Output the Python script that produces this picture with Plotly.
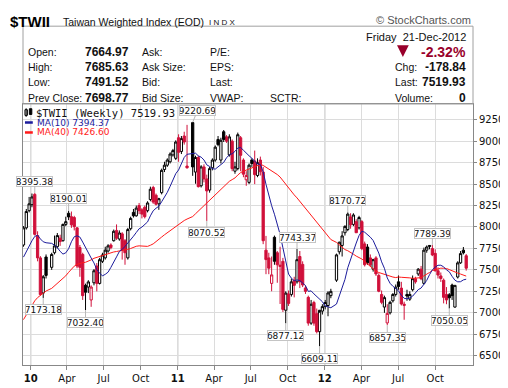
import plotly.graph_objects as go
import pandas as pd

# ---------------- data ----------------
holiday_weeks = ["2010-02-15", "2011-01-31", "2012-01-23"]
week_starts = [d for d in pd.date_range("2009-12-14", "2012-12-17", freq="W-MON")
               if d.strftime("%Y-%m-%d") not in holiday_weeks]

# weekly closes before the visible window (needed for the moving averages)
prior_closes_2009 = [5900, 5950, 6000, 6100, 6150, 6200, 6300,
                     6500, 6450, 6600, 6850,
                     6900, 6850, 6550, 6500, 6550,
                     6600, 6700, 6950, 7000,
                     7050, 6950, 6600, 6750, 6900,
                     7100, 7300, 7400, 7300,
                     7400, 7500, 7650, 7750,
                     7400, 7500, 7650, 7750, 7550,
                     7750]

opens = [7790, 7990, 8190,
         8260, 8380, 7900, 7640, 7230, 7650, 7530, 7700, 7770, 7870, 7840, 8030, 8160, 8120, 8110, 7990,
         7760, 7680, 7320, 7300, 7150, 7350, 7545, 7343, 7600, 7640, 7720, 7790, 7840, 7960, 7860, 7920,
         7840, 7640, 7980, 8170, 8130, 8250, 8200, 8230, 8190, 8320, 8460, 8370, 8270, 8400, 8670, 8720,
         8760, 8840, 8800,
         9040, 8880, 9060, 8710, 9216, 8640, 8810, 8480, 8700, 8560, 8430, 8690, 8780, 9020, 8780, 9110,
         9050, 8840, 9000, 8650, 8680, 9040, 8780, 8550, 8520, 8780, 8770, 8600, 8780, 8640, 7730, 7640,
         7343, 7880, 7700, 7540, 7600, 7030, 7220, 7214, 7380, 7361, 7656, 7564, 7290, 7180, 6880, 7120,
         6990, 6780, 7020,
         7072, 7085, 7200, 7380, 7711, 7785, 7933, 7970, 8117, 8030, 8062, 7990, 8062, 7803, 7767, 7640,
         7509, 7640, 7435, 7214, 7067, 6882, 7000, 7140, 7214, 7361, 7288, 7085, 7214, 7159, 7269, 7398,
         7453, 7509, 7343, 7730, 7785, 7748, 7693, 7490, 7430, 7380, 7214, 7210, 7324, 7067, 7417, 7582,
         7730, 7664.97]
highs = [8010, 8210, 8350,
         8390, 8395.38, 7950, 7660, 7440, 7680, 7700, 7900, 7930, 7910, 8040, 8120, 8190.01, 8180, 8130, 8000,
         7790, 7700, 7340, 7380, 7320, 7510, 7580, 7640, 7700, 7770, 7800, 7810, 7970, 8030, 7960, 7940,
         7860, 7990, 8120, 8210, 8250, 8280, 8220, 8250, 8300, 8470, 8480, 8390, 8340, 8680, 8760, 8800,
         8870, 8910, 9010,
         9080, 9060, 9110, 9190, 9220.69, 8830, 8830, 8720, 8730, 8610, 8700, 8800, 8950, 9060, 9040, 9130,
         9070, 9080, 9020, 8760, 9100, 9060, 8800, 8650, 8740, 8800, 8890, 8800, 8820, 8700, 7896, 7700,
         7656, 7900, 7720, 7770, 7640, 7250, 7260, 7400, 7420, 7743.37, 7720, 7600, 7320, 7200, 7150, 7140,
         7050, 7000, 7100,
         7150, 7251, 7280, 7690, 7830, 7951, 8020, 8170.72, 8160, 8160, 8090, 8130, 8080, 7830, 7800, 7680,
         7630, 7660, 7460, 7260, 7200, 7100, 7140, 7230, 7330, 7435, 7361, 7130, 7269, 7250, 7435, 7420,
         7520, 7546, 7760, 7785, 7788, 7789.39, 7740, 7530, 7470, 7400, 7300, 7230, 7340, 7320, 7601, 7720,
         7767, 7685.63]
lows = [7770, 7970, 8170,
        8230, 7900, 7600, 7200, 7173.18, 7400, 7500, 7680, 7750, 7780, 7830, 8010, 8080, 7990, 7960, 7520,
        7420, 7150, 7032.40, 7230, 7070, 7320, 7250, 7330, 7580, 7620, 7700, 7740, 7830, 7850, 7840, 7620,
        7560, 7620, 7960, 8110, 8120, 8150, 8100, 8100, 8170, 8300, 8270, 8250, 8200, 8380, 8640, 8700,
        8740, 8820, 8780,
        8760, 8850, 8960, 8680, 8596, 8504, 8460, 8460, 8520, 8070.52, 8400, 8660, 8760, 8940, 8740, 8990,
        8980, 8820, 8650, 8620, 8660, 8650, 8580, 8480, 8500, 8700, 8500, 8580, 8600, 7800, 7450, 7450,
        7251, 7560, 7350, 7103, 7010, 6877.12, 7080, 7190, 7180, 7340, 7288, 7300, 7220, 6850, 6860, 6850,
        6760, 6609.11, 6980,
        7040, 6960, 7170, 7360, 7680, 7656, 7900, 7951, 7980, 8010, 7930, 7970, 7730, 7540, 7560, 7540,
        7480, 7430, 7240, 7100, 7000, 6857.35, 6980, 7120, 7190, 7269, 7085, 6919, 7140, 7140, 7250, 7340,
        7430, 7380, 7330, 7700, 7740, 7660, 7480, 7400, 7360, 7110, 7100, 7050.05, 7150, 7060, 7400, 7570,
        7680, 7491.52]
closes = [7990, 8180, 8270,
          8350, 7914, 7640, 7213, 7420, 7436, 7680, 7780, 7900, 7830, 8030, 8062, 8117, 8025, 8004, 7545,
          7530, 7200, 7240, 7360, 7300, 7490, 7343, 7619, 7674, 7730, 7780, 7760, 7950, 7870, 7930, 7730,
          7700, 7970, 8100, 8130, 8220, 8190, 8150, 8120, 8280, 8440, 8290, 8265, 8330, 8660, 8720, 8780,
          8850, 8890, 8990,
          8870, 9030, 8990, 8690, 8700, 8810, 8470, 8700, 8560, 8420, 8680, 8780, 8930, 8960, 9010, 9020,
          9000, 9050, 8680, 8700, 9075, 8835, 8615, 8600, 8720, 8740, 8610, 8750, 8644, 7840, 7620, 7520,
          7442, 7600, 7560, 7555, 7040, 7230, 7110, 7361, 7320, 7619, 7361, 7324, 7250, 6880, 7100, 6880,
          6780, 7030, 7072,
          7120, 7232, 7250, 7675, 7822, 7896, 8007, 8150, 8025, 8140, 7933, 8110, 7748, 7560, 7582, 7560,
          7619, 7453, 7251, 7122, 7177, 6993, 7122, 7214, 7300, 7306, 7103, 7100, 7196, 7214, 7398, 7361,
          7509, 7397, 7730, 7767, 7775, 7674, 7490, 7440, 7400, 7180, 7150, 7175, 7200, 7320, 7582, 7690,
          7698.77, 7519.93]

label_dates = ["2010-01-11", "2010-04-05", "2010-02-01", "2010-05-17", "2011-02-07", "2011-03-14",
               "2011-10-24", "2011-09-26", "2011-12-19", "2012-02-27", "2012-06-04", "2012-09-24",
               "2012-11-05"]
label_values = [8395.38, 8190.01, 7173.18, 7032.40, 9220.69, 8070.52,
                7743.37, 6877.12, 6609.11, 8170.72, 6857.35, 7789.39, 7050.05]

quarter_ticks = pd.date_range("2010-01-01", "2012-10-01", freq="QS")
quarter_text = ["<b>10</b>", "Apr", "Jul", "Oct", "<b>11</b>", "Apr", "Jul", "Oct",
                "<b>12</b>", "Apr", "Jul", "Oct"]
price_ticks = [6500, 6750, 7000, 7250, 7500, 7750, 8000, 8250, 8500, 8750, 9000, 9250]

# ---------------- derived ----------------
n = len(week_starts)
assert len(opens) == n and len(highs) == n and len(lows) == n and len(closes) == n

all_closes = pd.Series(prior_closes_2009 + closes, dtype=float)
ma10 = all_closes.rolling(10).mean().iloc[len(prior_closes_2009):].tolist()
ma40 = all_closes.rolling(40).mean().iloc[len(prior_closes_2009):].tolist()
prev_close = [prior_closes_2009[-1]] + closes[:-1]

RED = "#d0103a"
BLACK = "#000000"
MA10_COL = "#1c1c9c"
MA40_COL = "#ff1a1a"
groups = {}
for i in range(n):
    hollow = closes[i] > opens[i]
    up = closes[i] >= prev_close[i]
    groups.setdefault((hollow, up), []).append(i)

fig = go.Figure()
for (hollow, up), idx in groups.items():
    lc = BLACK if up else RED
    fc = "#ffffff" if hollow else lc
    style = dict(line=dict(color=lc, width=1), fillcolor=fc)
    fig.add_trace(go.Candlestick(
        x=[week_starts[i] for i in idx],
        open=[opens[i] for i in idx], high=[highs[i] for i in idx],
        low=[lows[i] for i in idx], close=[closes[i] for i in idx],
        increasing=style, decreasing=style, whiskerwidth=0,
        hoverinfo="skip", showlegend=False))

fig.add_trace(go.Scatter(x=week_starts, y=ma40, mode="lines",
                         line=dict(color=MA40_COL, width=1), hoverinfo="skip", showlegend=False))
fig.add_trace(go.Scatter(x=week_starts, y=ma10, mode="lines",
                         line=dict(color=MA10_COL, width=1), hoverinfo="skip", showlegend=False))

# ---------------- layout helpers ----------------
L, R, T, B = 15, 474, 96, 371
W, H = 508, 388


def px(x):
    return (x - L) / (R - L)


def py(y):
    return (B - y) / (B - T)


annotations = []
shapes = []

# value labels at extremes
date_index = {d.strftime("%Y-%m-%d"): i for i, d in enumerate(week_starts)}
for d, v in zip(label_dates, label_values):
    i = date_index[d]
    above = abs(highs[i] - v) < 1e-6
    shift = 5 if v == max(label_values) else 0
    annotations.append(dict(
        x=week_starts[i], y=v, xref="x", yref="y", text=f"{v:.2f}",
        showarrow=True, arrowhead=0, arrowwidth=1, arrowcolor="#b8b8b8",
        ax=shift, ay=-12 if above else 12, standoff=0,
        font=dict(family="DejaVu Sans", size=9, color="#111111"),
        bgcolor="#ffffff", bordercolor="#c4c4c4", borderwidth=1, borderpad=0,
        width=35, height=9))

# legend
annotations += [
    dict(x=px(26), y=py(105), xref="paper", yref="paper", xanchor="left", yanchor="middle",
         text="$TWII (Weekly) 7519.93", showarrow=False,
         font=dict(family="DejaVu Sans Mono", size=10.5, color="#111111")),
    dict(x=px(27), y=py(115.5), xref="paper", yref="paper", xanchor="left", yanchor="middle",
         text="MA(10) 7394.37", showarrow=False, font=dict(family="DejaVu Sans", size=9, color=MA10_COL)),
    dict(x=px(27), y=py(126), xref="paper", yref="paper", xanchor="left", yanchor="middle",
         text="MA(40) 7426.60", showarrow=False, font=dict(family="DejaVu Sans", size=9, color=MA40_COL)),
]
shapes += [
    dict(type="line", xref="paper", yref="paper", x0=px(17), x1=px(25), y0=py(115.5), y1=py(115.5),
         line=dict(color=MA10_COL, width=2.5)),
    dict(type="line", xref="paper", yref="paper", x0=px(17), x1=px(25), y0=py(126), y1=py(126),
         line=dict(color=MA40_COL, width=2.5)),
    dict(type="rect", xref="paper", yref="paper", x0=px(17), x1=px(19.5), y0=py(108), y1=py(102),
         line=dict(color="#000000", width=1), fillcolor="#ffffff"),
    dict(type="line", xref="paper", yref="paper", x0=px(18.2), x1=px(18.2), y0=py(109.5), y1=py(100.5),
         line=dict(color="#000000", width=1)),
    dict(type="rect", xref="paper", yref="paper", x0=px(21.5), x1=px(24), y0=py(107), y1=py(101),
         line=dict(color="#000000", width=1), fillcolor="#000000"),
]

# year grid lines (darker)
for yr in ["2010-01-01", "2011-01-01", "2012-01-01"]:
    shapes.append(dict(type="line", xref="x", yref="paper", x0=yr, x1=yr, y0=0, y1=1,
                       line=dict(color="#a8a8a8", width=1), layer="below"))

# header
hdr = "Liberation Sans, Arial, sans-serif"
annotations += [
    dict(x=px(0), y=py(9), xref="paper", yref="paper", xanchor="left", yanchor="middle",
         text="<b>$TWII</b>", showarrow=False, font=dict(family=hdr, size=15, color="#000000")),
    dict(x=px(54), y=py(9.5), xref="paper", yref="paper", xanchor="left", yanchor="middle",
         text="Taiwan Weighted Index (EOD)", showarrow=False, font=dict(family=hdr, size=10.5, color="#111111")),
    dict(x=px(203), y=py(10), xref="paper", yref="paper", xanchor="left", yanchor="middle",
         text="I N D X", showarrow=False, font=dict(family=hdr, size=8, color="#111111")),
    dict(x=px(474), y=py(8), xref="paper", yref="paper", xanchor="right", yanchor="middle",
         text="© StockCharts.com", showarrow=False, font=dict(family=hdr, size=11, color="#555555")),
    dict(x=px(469), y=py(25), xref="paper", yref="paper", xanchor="right", yanchor="middle",
         text="Friday  21-Dec-2012", showarrow=False, font=dict(family=hdr, size=11, color="#111111")),
]
shapes.append(dict(type="rect", xref="paper", yref="paper", x0=px(15), x1=px(474), y0=py(14), y1=py(96),
                   line=dict(color="#a0a0a0", width=1), fillcolor="rgba(0,0,0,0)"))
shapes.append(dict(type="path", xref="paper", yref="paper",
                   path=f"M {px(396.5)},{py(34)} L {px(408.5)},{py(34)} L {px(402.5)},{py(46.5)} Z",
                   fillcolor="#99002b", line=dict(color="#99002b", width=0)))

rows_y = [41.7, 57.3, 72.7, 89.3]
col1 = ["Open:", "High:", "Low:", "Prev Close:"]
col1v = ["7664.97", "7685.63", "7491.52", "7698.77"]
col2 = ["Ask:", "Ask Size:", "Bid:", "Bid Size:"]
col3 = ["P/E:", "EPS:", "Last:", "VWAP:"]
col5 = ["", "Chg:", "Last:", "Volume:"]
col5v = ["", "-178.84", "7519.93", "0"]
lab_font = dict(family=hdr, size=10.5, color="#111111")
val_font = dict(family=hdr, size=12, color="#111111")
for k, yy in enumerate(rows_y):
    annotations.append(dict(x=px(18), y=py(yy), xref="paper", yref="paper", xanchor="left", yanchor="middle",
                            text=col1[k], showarrow=False, font=lab_font))
    annotations.append(dict(x=px(125), y=py(yy), xref="paper", yref="paper", xanchor="right", yanchor="middle",
                            text=f"<b>{col1v[k]}</b>", showarrow=False, font=val_font))
    annotations.append(dict(x=px(134), y=py(yy), xref="paper", yref="paper", xanchor="left", yanchor="middle",
                            text=col2[k], showarrow=False, font=lab_font))
    annotations.append(dict(x=px(204), y=py(yy), xref="paper", yref="paper", xanchor="left", yanchor="middle",
                            text=col3[k], showarrow=False, font=lab_font))
    if col5[k]:
        annotations.append(dict(x=px(392), y=py(yy), xref="paper", yref="paper", xanchor="left", yanchor="middle",
                                text=col5[k], showarrow=False, font=lab_font))
        annotations.append(dict(x=px(469), y=py(yy), xref="paper", yref="paper", xanchor="right", yanchor="middle",
                                text=f"<b>{col5v[k]}</b>", showarrow=False, font=val_font))
annotations.append(dict(x=px(265), y=py(89.3), xref="paper", yref="paper", xanchor="left", yanchor="middle",
                        text="SCTR:", showarrow=False, font=lab_font))
annotations.append(dict(x=px(469), y=py(41), xref="paper", yref="paper", xanchor="right", yanchor="middle",
                        text="<b>-2.32%</b>", showarrow=False, font=dict(family=hdr, size=14, color="#99002b")))

fig.update_layout(
    width=W, height=H, margin=dict(l=L, r=W - R, t=T, b=H - B, pad=0),
    paper_bgcolor="#ffffff", plot_bgcolor="#ffffff", showlegend=False,
    boxgap=0.2, boxgroupgap=0.0,
    annotations=annotations, shapes=shapes,
    xaxis=dict(type="date", range=["2009-12-12 19:00", "2013-01-02 21:00"],
               tickmode="array", tickvals=list(quarter_ticks), ticktext=quarter_text,
               tickfont=dict(family="DejaVu Sans", size=10, color="#111111"),
               ticks="outside", ticklen=4, tickcolor="#888888",
               showgrid=True, gridcolor="#dcdcdc", gridwidth=1,
               showline=True, linecolor="#888888", linewidth=1, mirror=True,
               rangeslider=dict(visible=False), zeroline=False, fixedrange=True),
    yaxis=dict(side="right", range=[6392, 9433], tickmode="array", tickvals=price_ticks,
               tickfont=dict(family="DejaVu Sans", size=10, color="#111111"),
               ticks="outside", ticklen=3, tickcolor="#888888",
               showgrid=True, gridcolor="#dcdcdc", gridwidth=1,
               showline=True, linecolor="#888888", linewidth=1, mirror=True,
               zeroline=False, fixedrange=True),
)

fig.write_html("out.html")
